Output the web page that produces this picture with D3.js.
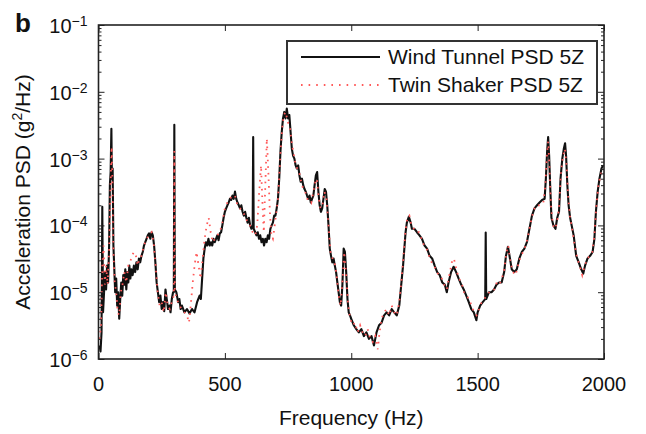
<!DOCTYPE html>
<html>
<head>
<meta charset="utf-8">
<script src="https://cdn.jsdelivr.net/npm/d3@7"></script>
<style>
  body { margin: 0; background: #fff; }
  text { font-family: "Liberation Sans", Arial, sans-serif; fill: #111; }
</style>
</head>
<body>
<div id="chart"></div>
<script>
// values: [frequency Hz, PSD g^2/Hz]
const windTunnel = [
  [4,1.6e-6],[8,1.3e-6],[12,2.5e-6],[15,1.9e-4],[18,5.0e-6],[22,1.0e-5],[26,2.0e-5],[30,1.1e-5],
  [34,2.5e-5],[38,1.4e-5],[42,5.0e-5],[45,4.0e-4],[48,6.3e-4],[51,2.8e-3],[53,5.0e-4],[56,7.1e-4],
  [59,5.0e-5],[62,2.5e-5],[66,1.0e-5],[70,1.6e-5],[74,6.3e-6],[78,1.0e-5],[82,4.0e-6],[86,7.9e-6],
  [90,1.4e-5],[94,8.9e-6],[98,1.8e-5],[102,1.3e-5],[106,2.2e-5],[110,1.1e-5],[114,2.0e-5],[118,1.4e-5],
  [122,2.5e-5],[126,1.6e-5],[130,2.2e-5],[135,1.8e-5],[140,2.5e-5],[145,2.0e-5],[150,2.8e-5],[155,2.2e-5],
  [160,3.2e-5],[165,2.8e-5],[170,3.5e-5],[175,4.0e-5],[180,5.0e-5],[185,5.6e-5],[190,6.3e-5],[195,7.1e-5],
  [200,7.6e-5],[205,6.3e-5],[210,7.9e-5],[215,7.1e-5],[220,5.0e-5],[225,2.8e-5],[230,1.4e-5],[235,1.0e-5],
  [240,7.1e-6],[245,8.9e-6],[250,5.6e-6],[255,7.1e-6],[260,5.2e-6],[265,1.1e-5],[270,7.9e-6],[275,5.6e-6],
  [280,6.3e-6],[285,5.0e-6],[290,7.9e-6],[295,1.0e-5],[298,1.0e-5],[300,3.2e-3],[302,1.1e-5],[308,1.0e-5],
  [315,7.1e-6],[320,7.9e-6],[325,5.6e-6],[330,6.3e-6],[340,5.0e-6],[350,5.6e-6],[360,4.8e-6],[370,5.6e-6],
  [380,5.0e-6],[390,7.1e-6],[400,8.9e-6],[405,7.9e-6],[410,1.6e-5],[415,3.2e-5],[420,4.5e-5],[425,5.6e-5],
  [430,5.0e-5],[435,6.3e-5],[440,5.0e-5],[445,5.6e-5],[450,5.0e-5],[455,6.3e-5],[460,5.6e-5],[465,6.3e-5],
  [470,7.1e-5],[475,6.0e-5],[480,7.6e-5],[485,7.9e-5],[490,1.0e-4],[495,1.3e-4],[500,1.6e-4],[505,1.8e-4],
  [510,2.0e-4],[515,2.2e-4],[520,2.5e-4],[525,2.4e-4],[530,2.8e-4],[535,2.5e-4],[540,3.2e-4],[545,2.5e-4],
  [550,2.2e-4],[555,2.0e-4],[560,1.8e-4],[565,2.0e-4],[570,1.6e-4],[575,1.4e-4],[580,1.6e-4],[585,1.3e-4],
  [590,1.1e-4],[595,1.3e-4],[600,1.0e-4],[605,8.9e-5],[610,1.0e-4],[612,2.1e-3],[614,8.9e-5],[620,7.9e-5],
  [625,7.1e-5],[630,7.9e-5],[635,6.3e-5],[640,7.1e-5],[645,5.6e-5],[650,6.3e-5],[655,5.0e-5],[660,6.3e-5],
  [665,5.6e-5],[670,7.1e-5],[675,6.3e-5],[680,8.9e-5],[685,1.0e-4],[690,1.1e-4],[695,1.4e-4],[700,1.4e-4],
  [705,1.8e-4],[710,2.5e-4],[715,5.0e-4],[720,1.3e-3],[725,2.5e-3],[730,4.0e-3],[735,5.0e-3],[740,4.0e-3],
  [745,5.6e-3],[750,4.0e-3],[755,4.5e-3],[760,2.5e-3],[765,1.4e-3],[770,1.1e-3],[775,1.0e-3],[780,7.9e-4],
  [785,7.1e-4],[790,7.9e-4],[795,5.6e-4],[800,4.5e-4],[805,5.0e-4],[810,4.0e-4],[815,3.5e-4],[820,3.2e-4],
  [825,2.8e-4],[830,2.5e-4],[835,2.8e-4],[840,2.2e-4],[845,2.5e-4],[850,2.8e-4],[855,4.0e-4],[860,5.6e-4],
  [865,6.3e-4],[870,3.2e-4],[875,2.0e-4],[880,1.6e-4],[885,1.8e-4],[890,2.5e-4],[895,3.5e-4],[900,3.2e-4],
  [905,2.0e-4],[910,1.0e-4],[915,4.5e-5],[920,3.5e-5],[925,2.8e-5],[930,3.2e-5],[935,2.5e-5],[940,2.0e-5],
  [945,1.4e-5],[950,1.0e-5],[955,7.1e-6],[960,6.3e-6],[965,1.3e-5],[970,4.5e-5],[975,4.0e-5],[980,2.0e-5],
  [985,7.9e-6],[990,5.0e-6],[995,4.5e-6],[1000,4.0e-6],[1010,3.2e-6],[1020,2.8e-6],[1030,2.5e-6],[1040,2.8e-6],
  [1050,2.2e-6],[1060,2.5e-6],[1070,2.0e-6],[1080,2.2e-6],[1090,1.6e-6],[1095,2.0e-6],[1100,2.5e-6],[1110,3.2e-6],
  [1120,3.5e-6],[1130,4.5e-6],[1140,5.0e-6],[1150,4.5e-6],[1160,5.6e-6],[1170,5.0e-6],[1180,4.5e-6],[1190,6.3e-6],
  [1195,1.0e-5],[1200,1.6e-5],[1205,2.5e-5],[1210,4.5e-5],[1215,7.9e-5],[1220,1.1e-4],[1228,1.35e-4],[1235,1.1e-4],
  [1240,8.9e-5],[1250,8.9e-5],[1260,7.9e-5],[1270,7.1e-5],[1280,6.3e-5],[1290,5.0e-5],[1300,4.5e-5],[1310,3.5e-5],
  [1320,3.2e-5],[1330,2.5e-5],[1340,2.0e-5],[1350,1.8e-5],[1360,1.4e-5],[1370,1.3e-5],[1378,1.0e-5],[1385,1.4e-5],
  [1395,2.0e-5],[1405,2.4e-5],[1415,2.0e-5],[1425,1.6e-5],[1435,1.3e-5],[1445,1.1e-5],[1455,8.9e-6],[1465,7.1e-6],
  [1475,5.6e-6],[1485,5.0e-6],[1495,3.8e-6],[1500,5.0e-6],[1510,6.3e-6],[1520,7.1e-6],[1530,7.9e-6],[1532,7.8e-5],
  [1534,7.9e-6],[1545,1.0e-5],[1555,1.0e-5],[1565,1.1e-5],[1575,1.3e-5],[1585,1.4e-5],[1595,1.4e-5],[1605,2.0e-5],
  [1612,3.5e-5],[1620,4.8e-5],[1628,3.2e-5],[1635,2.2e-5],[1645,2.0e-5],[1655,2.2e-5],[1665,3.2e-5],[1675,4.0e-5],
  [1685,4.5e-5],[1695,5.6e-5],[1705,8.9e-5],[1715,1.4e-4],[1725,1.8e-4],[1735,2.0e-4],[1745,2.2e-4],[1755,2.4e-4],
  [1765,2.5e-4],[1770,5.0e-4],[1775,1.3e-3],[1779,2.1e-3],[1783,1.1e-3],[1787,4.0e-4],[1792,1.3e-4],[1800,1.0e-4],
  [1808,8.9e-5],[1815,1.3e-4],[1822,1.6e-4],[1828,5.0e-4],[1835,1.0e-3],[1841,1.4e-3],[1846,1.7e-3],[1850,1.1e-3],
  [1855,4.0e-4],[1860,2.0e-4],[1866,1.3e-4],[1872,1.0e-4],[1880,7.1e-5],[1890,3.5e-5],[1900,2.8e-5],[1910,2.2e-5],
  [1918,1.9e-5],[1925,2.5e-5],[1935,3.2e-5],[1945,3.5e-5],[1955,4.0e-5],[1962,6.3e-5],[1968,1.6e-4],[1975,3.2e-4],
  [1982,5.0e-4],[1990,7.1e-4],[1996,7.9e-4]
];

const twinShaker = [
  [4,2.0e-6],[10,3.2e-6],[15,2.5e-5],[20,5.0e-5],[25,1.3e-5],[30,2.5e-5],[36,1.3e-5],[42,4.0e-5],
  [47,3.2e-4],[52,1.5e-3],[55,5.0e-4],[59,4.0e-5],[64,1.4e-5],[70,1.0e-5],[76,5.0e-6],[82,4.5e-6],
  [88,1.0e-5],[95,1.3e-5],[102,2.0e-5],[110,1.4e-5],[118,2.5e-5],[125,2.8e-5],[132,3.5e-5],[140,4.0e-5],
  [148,3.5e-5],[155,2.5e-5],[162,3.2e-5],[170,3.5e-5],[180,5.0e-5],[190,6.3e-5],[200,7.1e-5],[210,7.9e-5],
  [218,5.6e-5],[226,2.5e-5],[234,1.0e-5],[242,6.3e-6],[250,7.1e-6],[258,5.0e-6],[266,1.0e-5],[274,6.3e-6],
  [282,5.6e-6],[290,7.1e-6],[298,8.9e-6],[300,1.3e-3],[302,1.0e-5],[310,7.9e-6],[320,6.3e-6],[330,5.6e-6],
  [340,5.0e-6],[350,4.5e-6],[358,3.5e-6],[365,6.3e-6],[372,1.3e-5],[380,2.5e-5],[388,4.0e-5],[396,2.5e-5],
  [404,1.6e-5],[412,3.2e-5],[420,6.3e-5],[428,1.0e-4],[436,1.3e-4],[444,7.9e-5],[452,5.6e-5],[460,6.3e-5],
  [470,7.1e-5],[480,7.9e-5],[490,1.1e-4],[500,1.8e-4],[510,2.2e-4],[520,2.5e-4],[530,2.8e-4],[540,2.8e-4],
  [550,2.0e-4],[560,1.8e-4],[570,1.6e-4],[580,1.4e-4],[590,1.1e-4],[600,1.0e-4],[610,7.9e-5],[620,7.1e-5],
  [628,1.0e-4],[636,3.2e-4],[643,7.9e-4],[648,2.5e-4],[654,7.9e-5],[660,4.0e-4],[666,2.0e-3],[672,6.3e-4],
  [678,1.6e-4],[684,7.1e-5],[690,6.3e-5],[697,1.0e-4],[704,1.6e-4],[710,2.5e-4],[716,6.3e-4],[722,1.6e-3],
  [728,3.2e-3],[734,4.5e-3],[740,5.0e-3],[746,4.0e-3],[752,3.2e-3],[758,2.8e-3],[764,1.8e-3],[770,1.3e-3],
  [778,8.9e-4],[786,7.1e-4],[794,6.3e-4],[802,4.5e-4],[810,3.5e-4],[818,3.2e-4],[826,2.5e-4],[834,2.5e-4],
  [842,2.2e-4],[850,3.2e-4],[858,4.5e-4],[864,5.0e-4],[870,2.8e-4],[878,1.8e-4],[886,2.0e-4],[894,3.2e-4],
  [902,2.5e-4],[910,1.0e-4],[918,4.0e-5],[926,3.2e-5],[934,2.8e-5],[942,1.8e-5],[950,8.9e-6],[958,6.3e-6],
  [966,1.6e-5],[972,4.0e-5],[980,1.8e-5],[988,6.3e-6],[996,4.0e-6],[1005,3.2e-6],[1015,3.5e-6],[1025,2.5e-6],
  [1035,3.2e-6],[1045,2.5e-6],[1055,2.2e-6],[1065,2.8e-6],[1075,2.0e-6],[1085,1.8e-6],[1095,2.2e-6],[1105,1.4e-6],
  [1112,2.5e-6],[1120,4.0e-6],[1130,5.0e-6],[1140,5.6e-6],[1150,4.5e-6],[1160,6.3e-6],[1170,5.0e-6],[1180,4.5e-6],
  [1190,7.1e-6],[1198,1.4e-5],[1206,3.2e-5],[1214,7.9e-5],[1222,1.3e-4],[1230,1.4e-4],[1238,1.0e-4],[1248,8.9e-5],
  [1258,7.9e-5],[1268,7.9e-5],[1278,6.3e-5],[1288,5.0e-5],[1298,4.5e-5],[1308,3.5e-5],[1318,2.8e-5],[1328,2.5e-5],
  [1338,2.0e-5],[1348,1.8e-5],[1358,1.6e-5],[1368,1.3e-5],[1378,1.1e-5],[1388,1.8e-5],[1398,2.8e-5],[1406,3.2e-5],
  [1416,2.2e-5],[1426,1.6e-5],[1436,1.4e-5],[1446,1.0e-5],[1456,8.9e-6],[1466,7.9e-6],[1476,6.3e-6],[1486,5.0e-6],
  [1496,4.5e-6],[1506,5.6e-6],[1516,7.1e-6],[1526,7.9e-6],[1536,8.9e-6],[1546,1.0e-5],[1556,1.1e-5],[1566,1.1e-5],
  [1576,1.4e-5],[1586,1.3e-5],[1596,1.6e-5],[1606,2.2e-5],[1614,4.0e-5],[1621,5.0e-5],[1630,2.8e-5],[1640,2.0e-5],
  [1650,1.8e-5],[1660,2.5e-5],[1670,3.5e-5],[1680,4.0e-5],[1690,5.0e-5],[1700,7.1e-5],[1710,1.1e-4],[1720,1.6e-4],
  [1730,2.0e-4],[1740,2.0e-4],[1750,2.0e-4],[1760,2.2e-4],[1768,4.0e-4],[1774,1.1e-3],[1779,1.8e-3],[1784,7.9e-4],
  [1790,2.0e-4],[1798,1.0e-4],[1806,8.9e-5],[1814,1.1e-4],[1822,1.8e-4],[1830,6.3e-4],[1838,1.1e-3],[1845,1.4e-3],
  [1852,7.9e-4],[1858,2.8e-4],[1866,1.3e-4],[1874,8.9e-5],[1884,5.0e-5],[1894,3.2e-5],[1904,2.5e-5],[1914,1.8e-5],
  [1924,2.5e-5],[1934,3.2e-5],[1944,3.5e-5],[1954,4.0e-5],[1962,7.1e-5],[1970,2.0e-4],[1978,4.0e-4],[1986,5.6e-4],
  [1996,7.1e-4]
];

const seriesNames = ["Wind Tunnel PSD 5Z", "Twin Shaker PSD 5Z"];
const xTicks = [0, 500, 1000, 1500, 2000];
const yExponents = [-6, -5, -4, -3, -2, -1];

const width = 646, height = 434;
const plotLeft = 98.5, plotRight = 604, plotTop = 25, plotBottom = 359;

const svg = d3.select("#chart").append("svg")
  .attr("width", width)
  .attr("height", height);

const x = d3.scaleLinear().domain([0, 2000]).range([plotLeft, plotRight]);
const y = d3.scaleLog().domain([1e-6, 1e-1]).range([plotBottom, plotTop]);

svg.append("clipPath").attr("id", "plot")
  .append("rect")
  .attr("x", plotLeft).attr("y", plotTop)
  .attr("width", plotRight - plotLeft).attr("height", plotBottom - plotTop);

// data lines
const line = d3.line()
  .x(d => x(d[0]))
  .y(d => y(d[1]));

const lines = svg.append("g").attr("clip-path", "url(#plot)").attr("fill", "none");

lines.append("path")
  .datum(windTunnel)
  .attr("stroke", "#111")
  .attr("stroke-width", 2.1)
  .attr("stroke-linejoin", "round")
  .attr("d", line);

lines.append("path")
  .datum(twinShaker)
  .attr("stroke", "#ff5a5a")
  .attr("stroke-width", 1.8)
  .attr("stroke-dasharray", "1.6,5")
  .attr("d", line);

// axes, ticks pointing inward
const majors = yExponents.map(e => Math.pow(10, e));
const minors = y.ticks().filter(v => !majors.some(m => Math.abs(v / m - 1) < 1e-9));

function clean(g) {
  g.select(".domain").remove();
  g.selectAll("line").attr("stroke", "#222").attr("stroke-width", 1);
}

svg.append("g").attr("transform", `translate(0,${plotBottom})`)
  .call(d3.axisBottom(x).tickValues(xTicks).tickSize(-6).tickFormat(""))
  .call(clean);
svg.append("g").attr("transform", `translate(0,${plotTop})`)
  .call(d3.axisTop(x).tickValues(xTicks).tickSize(-6).tickFormat(""))
  .call(clean);
svg.append("g").attr("transform", `translate(${plotLeft},0)`)
  .call(d3.axisLeft(y).tickValues(majors).tickSize(-6).tickFormat(""))
  .call(clean);
svg.append("g").attr("transform", `translate(${plotLeft},0)`)
  .call(d3.axisLeft(y).tickValues(minors).tickSize(-3).tickFormat(""))
  .call(clean);
svg.append("g").attr("transform", `translate(${plotRight},0)`)
  .call(d3.axisRight(y).tickValues(majors).tickSize(-6).tickFormat(""))
  .call(clean);
svg.append("g").attr("transform", `translate(${plotRight},0)`)
  .call(d3.axisRight(y).tickValues(minors).tickSize(-3).tickFormat(""))
  .call(clean);

svg.append("rect")
  .attr("x", plotLeft).attr("y", plotTop)
  .attr("width", plotRight - plotLeft).attr("height", plotBottom - plotTop)
  .attr("fill", "none")
  .attr("stroke", "#222")
  .attr("stroke-width", 1.6);

// tick labels
svg.append("g").selectAll("text")
  .data(xTicks)
  .join("text")
  .attr("x", d => x(d))
  .attr("y", plotBottom + 32)
  .attr("text-anchor", "middle")
  .attr("font-size", 20)
  .text(d => d);

const yl = svg.append("g").selectAll("text")
  .data(yExponents)
  .join("text")
  .attr("x", plotLeft - 11)
  .attr("y", d => y(Math.pow(10, d)) + 8)
  .attr("text-anchor", "end")
  .attr("font-size", 20);
yl.append("tspan").text("10");
yl.append("tspan")
  .attr("font-size", 14)
  .attr("dy", -7)
  .text(d => "\u2212" + (-d));

// axis titles
svg.append("text")
  .attr("x", (plotLeft + plotRight) / 2)
  .attr("y", 425)
  .attr("text-anchor", "middle")
  .attr("font-size", 21)
  .text("Frequency (Hz)");

const yt = svg.append("text")
  .attr("transform", `translate(30,${(plotTop + plotBottom) / 2}) rotate(-90)`)
  .attr("text-anchor", "middle")
  .attr("font-size", 21);
yt.append("tspan").text("Acceleration PSD (g");
yt.append("tspan").attr("font-size", 14).attr("dy", -8).text("2");
yt.append("tspan").attr("dy", 8).text("/Hz)");

// panel letter
svg.append("text")
  .attr("x", 15)
  .attr("y", 32)
  .attr("font-size", 26)
  .attr("font-weight", "bold")
  .text("b");

// legend
const legend = svg.append("g");
legend.append("rect")
  .attr("x", 287).attr("y", 41)
  .attr("width", 310).attr("height", 63)
  .attr("fill", "#fff")
  .attr("stroke", "#333")
  .attr("stroke-width", 2);

const rows = [
  { name: seriesNames[0], color: "#111", dash: null, yy: 57 },
  { name: seriesNames[1], color: "#ff5a5a", dash: "1.6,6", yy: 85 }
];
rows.forEach(r => {
  legend.append("line")
    .attr("x1", 301).attr("x2", 380)
    .attr("y1", r.yy).attr("y2", r.yy)
    .attr("stroke", r.color)
    .attr("stroke-width", 1.8)
    .attr("stroke-dasharray", r.dash);
  legend.append("text")
    .attr("x", 388)
    .attr("y", r.yy + 7)
    .attr("font-size", 21)
    .text(r.name);
});
</script>
</body>
</html>
